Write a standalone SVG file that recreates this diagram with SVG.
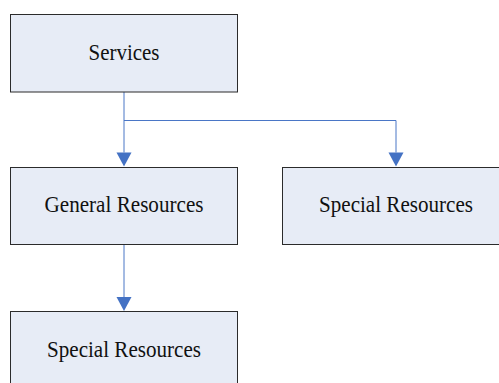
<svg xmlns="http://www.w3.org/2000/svg" width="499" height="383" viewBox="0 0 499 383">
  <defs>
    <style>
      .box { fill: #E7ECF6; stroke: #2B2B2B; stroke-width: 1; }
      .lbl { font-family: "Liberation Serif", "Times New Roman", serif; font-size: 23px; fill: #111; text-anchor: middle; }
      .conn { fill: none; stroke: #4A76C6; stroke-width: 1; }
      .head { fill: #4472C4; }
    </style>
  </defs>
  <rect width="499" height="383" fill="#FFFFFF"/>
  <g id="connectors">
    <path class="conn" d="M124,92 V152.5"/>
    <path class="head" d="M116.5,152.5 H131.5 L124,166.5 Z"/>
    <path class="conn" d="M124,120.5 H396 V152.5"/>
    <path class="head" d="M388.5,152.5 H403.5 L396,166.5 Z"/>
    <path class="conn" d="M124,244.5 V297"/>
    <path class="head" d="M116.5,297 H131.5 L124,311 Z"/>
  </g>
  <g id="services">
    <rect class="box" x="10.5" y="14.5" width="227" height="77.5"/>
    <text class="lbl" x="124" y="59.5" textLength="71" lengthAdjust="spacingAndGlyphs">Services</text>
  </g>
  <g id="general-resources">
    <rect class="box" x="10.5" y="167.5" width="227" height="77"/>
    <text class="lbl" x="124" y="211.5" textLength="159" lengthAdjust="spacingAndGlyphs">General Resources</text>
  </g>
  <g id="special-resources-right">
    <rect class="box" x="282.5" y="167.5" width="227" height="77"/>
    <text class="lbl" x="396" y="211.5" textLength="154" lengthAdjust="spacingAndGlyphs">Special Resources</text>
  </g>
  <g id="special-resources-bottom">
    <rect class="box" x="10.5" y="311.5" width="227" height="77"/>
    <text class="lbl" x="124" y="356.5" textLength="154" lengthAdjust="spacingAndGlyphs">Special Resources</text>
  </g>
</svg>
